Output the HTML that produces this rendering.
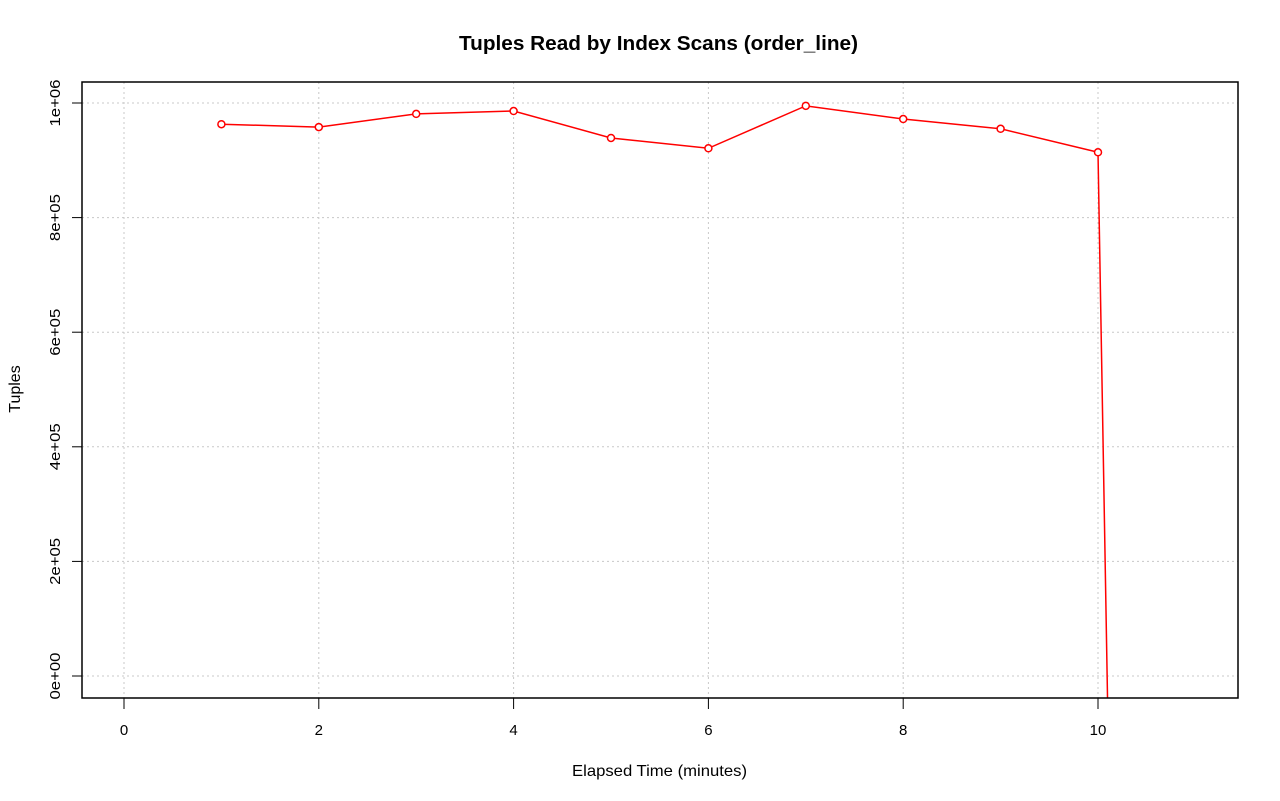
<!DOCTYPE html>
<html><head><meta charset="utf-8"><style>
html,body{margin:0;background:#fff;overflow:hidden;width:1280px;height:801px}
svg{display:block;font-family:"Liberation Sans",Arial,sans-serif}
</style></head><body>
<svg id="chart" width="1280" height="801">
<text x="658.5" y="50" text-anchor="middle" font-size="20" font-weight="bold" textLength="399" lengthAdjust="spacingAndGlyphs">Tuples Read by Index Scans (order_line)</text>
<text x="659.5" y="776" text-anchor="middle" font-size="16" textLength="175" lengthAdjust="spacingAndGlyphs">Elapsed Time (minutes)</text>
<text transform="translate(20,389) rotate(-90)" text-anchor="middle" font-size="16">Tuples</text>
<g id="grid"></g><g id="axes"></g>
<defs><clipPath id="clip"><rect x="82" y="82" width="1156" height="616"/></clipPath></defs>
<g id="series" clip-path="url(#clip)"></g>
<g id="markers"></g>
<rect x="82" y="82" width="1156" height="616" fill="none" stroke="#000" stroke-width="1.5"/>
</svg>
<script>
const xs = [1,2,3,4,5,6,7,8,9,10,10.1];
const values = [963000,958000,981000,986000,939000,921000,995000,972000,955000,914000,-60000];
const xTicks = [0,2,4,6,8,10];
const yTicks = [0,200000,400000,600000,800000,1000000];
const yTickLabels = ["0e+00","2e+05","4e+05","6e+05","8e+05","1e+06"];
const NS="http://www.w3.org/2000/svg";
const X=v=>124+v*97.4;
const Y=v=>676-v/1e6*573;
function mk(tag,attrs,parent){const e=document.createElementNS(NS,tag);for(const k in attrs)e.setAttribute(k,attrs[k]);document.getElementById(parent).appendChild(e);return e;}
xTicks.forEach(t=>{
 const g=mk('line',{x1:X(t),x2:X(t),y1:82,y2:698,stroke:'#c8c8c8','stroke-dasharray':'2,3'},'grid');
 
 
 const tk=mk('line',{x1:X(t),x2:X(t),y1:698,y2:709,stroke:'#000'},'axes');
 
 
 const l=mk('text',{x:X(t),y:735,'text-anchor':'middle','font-size':'15'},'axes');l.textContent=t;
 
 
});
yTicks.forEach((t,i)=>{
 const g=mk('line',{x1:82,x2:1238,y1:Y(t),y2:Y(t),stroke:'#c8c8c8','stroke-dasharray':'2,3'},'grid');
 
 
 const tk=mk('line',{x1:72,x2:82,y1:Y(t),y2:Y(t),stroke:'#000'},'axes');
 
 
 const l=mk('text',{transform:`translate(60,${Y(t)}) rotate(-90)`,'text-anchor':'middle','font-size':'15',textLength:'47',lengthAdjust:'spacingAndGlyphs'},'axes');l.textContent=yTickLabels[i];
 
 
});
const pts=xs.map((x,i)=>X(x)+','+Y(values[i])).join(' ');
const pl=mk('polyline',{points:pts,fill:'none',stroke:'#f00','stroke-width':'1.5'},'series');


xs.forEach((x,i)=>{
 if(values[i]<-38000)return;
 const c=mk('circle',{cx:X(x),cy:Y(values[i]),r:3.5,fill:'#fff',stroke:'#f00','stroke-width':'1.5'},'markers');
 
 
});
</script>
</body></html>
